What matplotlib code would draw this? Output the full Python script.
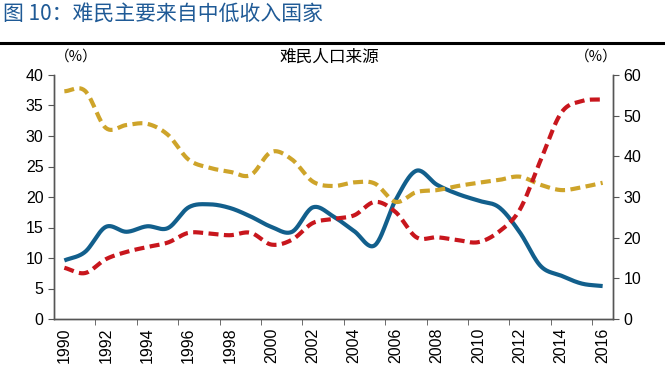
import numpy as np
import matplotlib
matplotlib.use("Agg")
import matplotlib.pyplot as plt

plt.rcParams["font.family"] = ["Liberation Sans", "Noto Sans CJK SC", "DejaVu Sans"]

years = list(range(1990, 2017))

# left axis (%)
blue = [9.6, 11.0, 15.1, 14.3, 15.2, 14.9, 18.3, 18.8, 18.2, 16.8, 15.1, 14.3,
        18.3, 16.8, 14.4, 12.1, 19.5, 24.3, 22.0, 20.5, 19.4, 18.3, 14.2, 8.7,
        7.1, 5.8, 5.4]
# right axis (%)
red = [12.6, 11.3, 14.7, 16.5, 17.7, 18.8, 21.2, 21.0, 20.6, 21.2, 18.3, 19.5,
       23.6, 24.6, 25.5, 28.8, 26.3, 20.1, 20.1, 19.4, 18.9, 21.5, 26.9, 39.0,
       50.7, 53.6, 54.0]
gold = [56.0, 56.1, 47.0, 47.7, 48.0, 45.3, 39.2, 37.2, 36.2, 35.4, 41.1, 39.2,
        33.8, 32.7, 33.6, 33.3, 28.8, 31.2, 31.7, 32.7, 33.5, 34.2, 35.0, 33.0,
        31.7, 32.4, 33.5]

xtick_years = list(range(1990, 2017, 2))

BLUE = "#125f8c"
RED = "#c8161d"
GOLD = "#cea42a"


def smooth(x, y, n=24):
    # Catmull-Rom curve through the points, like Excel's smoothed line
    x = np.asarray(x, float)
    y = np.asarray(y, float)
    px = np.concatenate([[2 * x[0] - x[1]], x, [2 * x[-1] - x[-2]]])
    py = np.concatenate([[2 * y[0] - y[1]], y, [2 * y[-1] - y[-2]]])
    t = np.linspace(0, 1, n, endpoint=False)
    xs, ys = [], []
    for i in range(1, len(px) - 2):
        for p, out in ((px, xs), (py, ys)):
            p0, p1, p2, p3 = p[i - 1], p[i], p[i + 1], p[i + 2]
            out.append(0.5 * (2 * p1 + (-p0 + p2) * t
                              + (2 * p0 - 5 * p1 + 4 * p2 - p3) * t ** 2
                              + (-p0 + 3 * p1 - 3 * p2 + p3) * t ** 3))
    xs.append([x[-1]])
    ys.append([y[-1]])
    return np.concatenate(xs), np.concatenate(ys)


fig = plt.figure(figsize=(6.65, 3.88), dpi=100)
ax = fig.add_axes([54 / 665, 1 - 319 / 388, 559 / 665, 244 / 388])
ax2 = ax.twinx()

sx, sy = smooth(years, blue)
ax.plot(sx, sy, color=BLUE, lw=3.0, solid_capstyle="butt", zorder=3)

sx, sy = smooth(years, gold)
ax2.plot(sx, sy, color=GOLD, lw=3.0, dashes=(2.4, 1.3), dash_capstyle="butt")
sx, sy = smooth(years, red)
ax2.plot(sx, sy, color=RED, lw=3.0, dashes=(2.4, 1.3), dash_capstyle="butt")

ax.set_xlim(1989.5, 2016.5)
ax.set_ylim(0, 40)
ax2.set_ylim(0, 60)
ax.set_yticks(range(0, 41, 5))
ax2.set_yticks(range(0, 61, 10))
ax.set_xticks(xtick_years)
ax.set_xticklabels([str(y) for y in xtick_years], rotation=90)
ax.set_xticks(np.arange(1991.5, 2016, 2), minor=True)
ax.tick_params(axis="x", which="major", length=0, pad=6, labelsize=11.5)
ax.tick_params(axis="x", which="minor", length=4, color="#555555")
ax.tick_params(axis="y", length=4, labelsize=11.5, color="#555555")
ax2.tick_params(axis="y", length=4, labelsize=11.5, color="#555555")

for a in (ax, ax2):
    a.spines["top"].set_visible(False)
    for s in ("left", "right", "bottom"):
        a.spines[s].set_color("#555555")
        a.spines[s].set_linewidth(1.0)

cjk = ["Noto Sans CJK SC", "DejaVu Sans"]
fig.text(0.004, 1 - 14 / 388, "图 10：难民主要来自中低收入国家", color="#1f5a96",
         fontsize=15, va="center", ha="left", family=cjk)
fig.add_artist(plt.Line2D([0, 1], [1 - 43 / 388, 1 - 43 / 388], color="black", lw=2.2))
fig.text(329 / 665, 1 - 57 / 388, "难民人口来源", fontsize=12, ha="center",
         va="center", family=cjk)
fig.text(76 / 665, 1 - 57 / 388, "（%）", fontsize=10.5, ha="center", va="center",
         family=cjk)
fig.text(596 / 665, 1 - 57 / 388, "（%）", fontsize=10.5, ha="center", va="center",
         family=cjk)

fig.savefig("out.png", dpi=100)
